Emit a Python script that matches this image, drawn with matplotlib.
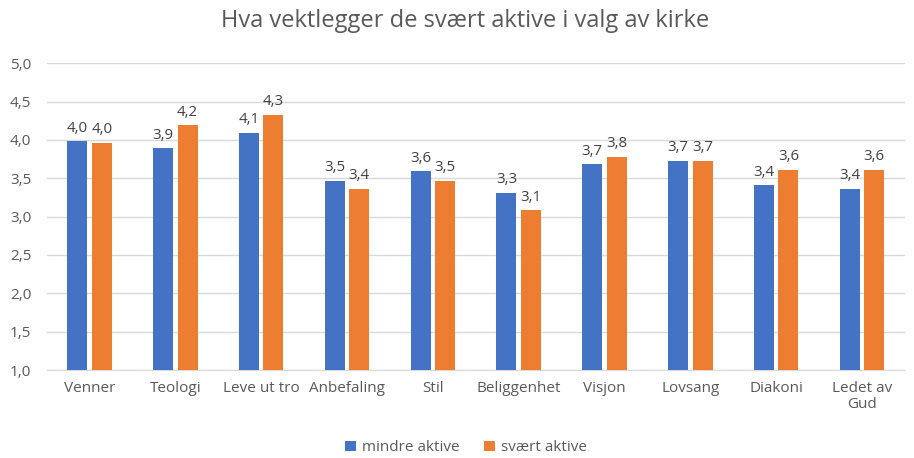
import matplotlib.pyplot as plt
import numpy as np

plt.rcParams['font.family'] = ['Open Sans', 'DejaVu Sans']

kategorier = ['Venner', 'Teologi', 'Leve ut tro', 'Anbefaling', 'Stil',
              'Beliggenhet', 'Visjon', 'Lovsang', 'Diakoni', 'Ledet av\nGud']
mindre_aktive = [3.98, 3.89, 4.09, 3.47, 3.59, 3.31, 3.68, 3.73, 3.41, 3.36]
svaert_aktive = [3.96, 4.19, 4.33, 3.36, 3.47, 3.08, 3.78, 3.73, 3.61, 3.61]
yticks = [1.0, 1.5, 2.0, 2.5, 3.0, 3.5, 4.0, 4.5, 5.0]

blaa = '#4472C4'
oransje = '#ED7D31'
tekst = '#595959'

fig = plt.figure(figsize=(9.14, 4.58), dpi=100)
ax = fig.add_axes([0.051, 0.192, 0.939, 0.670])

x = np.arange(len(kategorier))
b = 0.233
off = 0.143
s1 = ax.bar(x - off, mindre_aktive, b, bottom=0, color=blaa, label='mindre aktive', zorder=3)
s2 = ax.bar(x + off, svaert_aktive, b, bottom=0, color=oransje, label='svært aktive', zorder=3)

for rects, vals in ((s1, mindre_aktive), (s2, svaert_aktive)):
    for r, v in zip(rects, vals):
        ax.annotate(f'{v:.1f}'.replace('.', ','), (r.get_x() + r.get_width() / 2, v),
                    xytext=(0, 4), textcoords='offset points', ha='center', va='bottom',
                    fontsize=10.8, color='#404040')

ax.set_ylim(1.0, 5.0)
ax.set_xlim(-0.5, len(kategorier) - 0.5)
ax.set_yticks(yticks)
ax.set_yticklabels([f'{t:.1f}'.replace('.', ',') for t in yticks], fontsize=11, color=tekst)
ax.set_xticks(x)
ax.set_xticklabels(kategorier, fontsize=11, color=tekst, linespacing=1.1)
ax.tick_params(axis='x', length=0, pad=8)
ax.tick_params(axis='y', length=0, pad=11)
ax.yaxis.grid(True, color='#D9D9D9', linewidth=1, zorder=0)
for s in ax.spines.values():
    s.set_visible(False)
ax.spines['bottom'].set_visible(True)
ax.spines['bottom'].set_color('#D9D9D9')

fig.suptitle('Hva vektlegger de svært aktive i valg av kirke', x=0.509, y=0.98,
             fontsize=17, color=tekst)
fig.legend(handles=[s1, s2], loc='center', bbox_to_anchor=(0.51, 0.022), ncol=2,
           frameon=False, fontsize=11, labelcolor=tekst, handlelength=0.7,
           handleheight=0.7, handletextpad=0.4, columnspacing=1.6, borderpad=0.2)

fig.savefig('out.png', dpi=100)
